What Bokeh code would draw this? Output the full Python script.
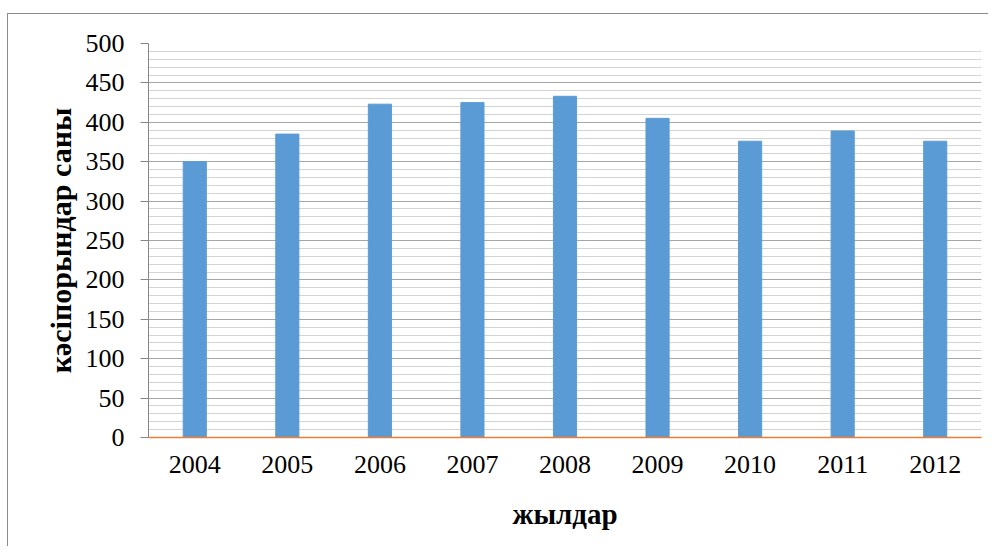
from bokeh.plotting import figure
from bokeh.models import SingleIntervalTicker, FactorRange, Range1d, InlineStyleSheet
from bokeh.embed import file_html
from bokeh.resources import INLINE

years = ["2004", "2005", "2006", "2007", "2008", "2009", "2010", "2011", "2012"]
counts = [350, 385, 423, 425, 433, 405, 376, 389, 376]
y_label = "кәсіпорындар саны"
x_label = "жылдар"

frame_css = InlineStyleSheet(css="""
:host::after {
  content: '';
  position: absolute;
  left: 7px;
  top: 13px;
  width: 2000px;
  height: 2000px;
  border-left: 1px solid #8c8c8c;
  border-top: 1px solid #8c8c8c;
  pointer-events: none;
}
:host { overflow: hidden; }
""")

p = figure(x_range=FactorRange(*years, range_padding=0), y_range=Range1d(0, 500),
           width=988, height=546, output_backend="svg", toolbar_location=None,
           min_border_left=148, min_border_right=7, min_border_top=43, min_border_bottom=109,
           stylesheets=[frame_css])

p.vbar(x=years, top=counts, width=0.25, color="#5B9BD5")

p.outline_line_color = None
p.background_fill_color = "white"
p.border_fill_color = "white"

# y axis
p.yaxis.ticker = SingleIntervalTicker(interval=50, num_minor_ticks=5)
p.yaxis.axis_line_color = "#868686"
p.yaxis.major_tick_line_color = "#868686"
p.yaxis.major_tick_out = 8
p.yaxis.major_tick_in = 0
p.yaxis.minor_tick_out = 0
p.yaxis.minor_tick_in = 0
p.yaxis.major_label_standoff = 16
p.yaxis.major_label_text_font = "Liberation Serif"
p.yaxis.major_label_text_font_size = "26px"
p.yaxis.major_label_text_color = "black"
p.yaxis.axis_label = y_label
p.yaxis.axis_label_text_font = "Liberation Serif"
p.yaxis.axis_label_text_font_size = "30px"
p.yaxis.axis_label_text_font_style = "bold"
p.yaxis.axis_label_text_color = "black"
p.yaxis.axis_label_standoff = 6

# x axis
p.xaxis.axis_line_color = "#ED7D31"
p.xaxis.axis_line_width = 1.5
p.xaxis.major_tick_line_color = None
p.xaxis.minor_tick_line_color = None
p.xaxis.major_label_standoff = 12
p.xaxis.major_label_text_font = "Liberation Serif"
p.xaxis.major_label_text_font_size = "26px"
p.xaxis.major_label_text_color = "black"
p.xaxis.axis_label = x_label
p.xaxis.axis_label_text_font = "Liberation Serif"
p.xaxis.axis_label_text_font_size = "29px"
p.xaxis.axis_label_text_font_style = "bold"
p.xaxis.axis_label_text_color = "black"
p.xaxis.axis_label_standoff = 22

# grid
p.xgrid.grid_line_color = None
p.ygrid.grid_line_color = "#a6a6a6"
p.ygrid.grid_line_width = 1.2
p.ygrid.minor_grid_line_color = "#d4d4d4"
p.ygrid.minor_grid_line_width = 1.2

open("out.html", "w").write(file_html(p, INLINE))
